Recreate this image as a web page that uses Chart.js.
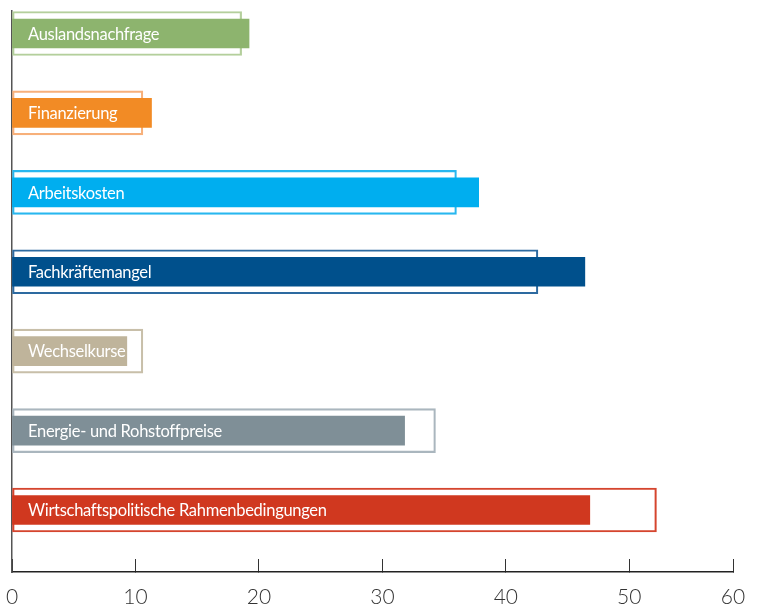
<!DOCTYPE html>
<html>
<head>
<meta charset="utf-8">
<script src="https://cdn.jsdelivr.net/npm/chart.js@4"></script>
<style>
	body { margin: 0; background: #fff; }
	#wrap { width: 758px; height: 605px; position: relative; }
</style>
</head>
<body>
<div id="wrap"><canvas id="chart1"></canvas></div>
<script>
//================ data =================
const categories = [
	'Auslandsnachfrage',
	'Finanzierung',
	'Arbeitskosten',
	'Fachkräftemangel',
	'Wechselkurse',
	'Energie- und Rohstoffpreise',
	'Wirtschaftspolitische Rahmenbedingungen'
];
// filled bars (current survey)
const current = [19.2, 11.3, 37.8, 46.4, 9.3, 31.8, 46.8];
// outlined bars (previous survey)
const previous = [18.6, 10.6, 36.0, 42.6, 10.6, 34.3, 52.2];
const tickValues = [0, 10, 20, 30, 40, 50, 58.4];
const tickLabels = ['0', '10', '20', '30', '40', '50', '60'];

//================ colours ===============
const fillColors = ['#8db46e', '#f28b25', '#00aeef', '#00508c', '#bfb49b', '#7f8f97', '#d0381f'];
const lineColors = ['#b4cf9c', '#f7b07a', '#28b7ef', '#2d6aa0', '#c8bfa9', '#aab6be', '#d5452e'];

//--------- labels written inside the bars
const barLabels = {
	id: 'barLabels',
	afterDatasetsDraw(chart) {
		const ctx = chart.ctx;
		const meta = chart.getDatasetMeta(0);
		const x0 = chart.scales.x.getPixelForValue(0);
		ctx.save();
		ctx.fillStyle = '#ffffff';
		ctx.font = '16.5px Lato';
		ctx.letterSpacing = '-0.3px';
		ctx.textBaseline = 'middle';
		ctx.textAlign = 'left';
		meta.data.forEach((bar, i) => {
			ctx.fillText(categories[i], x0 + 16, bar.y + 1);
		});
		ctx.restore();
	}
};

const ctx = document.getElementById('chart1').getContext('2d');
const myChart = new Chart(ctx, {
	type: 'bar',
	data: {
		datasets: [
			{
				label: 'aktuell',
				data: current.map((v, i) => ({ x: v, y: i })),
				backgroundColor: fillColors,
				borderWidth: 0,
				barThickness: 29,
				grouped: false,
				order: 0
			},
			{
				label: 'vorher',
				data: previous.map((v, i) => ({ x: v, y: i })),
				backgroundColor: 'rgba(255,255,255,0)',
				borderColor: lineColors,
				borderWidth: 1.5,
				borderSkipped: false,
				barThickness: 44,
				grouped: false,
				order: 1
			}
		]
	},
	options: {
		indexAxis: 'y',
		responsive: true,
		maintainAspectRatio: false,
		animation: false,
		layout: { padding: { top: 11, right: 25, left: 0, bottom: 0 } },
		plugins: {
			legend: { display: false },
			tooltip: { enabled: false }
		},
		scales: {
			x: {
				type: 'linear',
				min: 0,
				max: 58.4,
				afterBuildTicks: scale => {
					scale.ticks = tickValues.map(v => ({ value: v }));
				},
				afterFit: scale => {
					scale.height = 33;
					scale.paddingLeft = 0;
					scale.paddingRight = 0;
				},
				grid: { drawOnChartArea: false, tickLength: -13, color: '#333', lineWidth: 1 },
				border: { display: true, color: '#222', width: 1.5 },
				ticks: {
					padding: 26,
					color: '#333',
					font: { family: 'Lato', size: 21, weight: 300 },
					maxRotation: 0,
					autoSkip: false,
					callback: (value, index) => tickLabels[index]
				}
			},
			y: {
				type: 'linear',
				reverse: true,
				offset: false,
				min: -0.283,
				max: 6.781,
				afterFit: scale => { scale.width = 12; },
				grid: { display: false, drawTicks: false, offset: false },
				border: { display: true, color: '#555', width: 1.5 },
				ticks: { display: false }
			}
		}
	},
	plugins: [barLabels]
});
</script>
</body>
</html>
